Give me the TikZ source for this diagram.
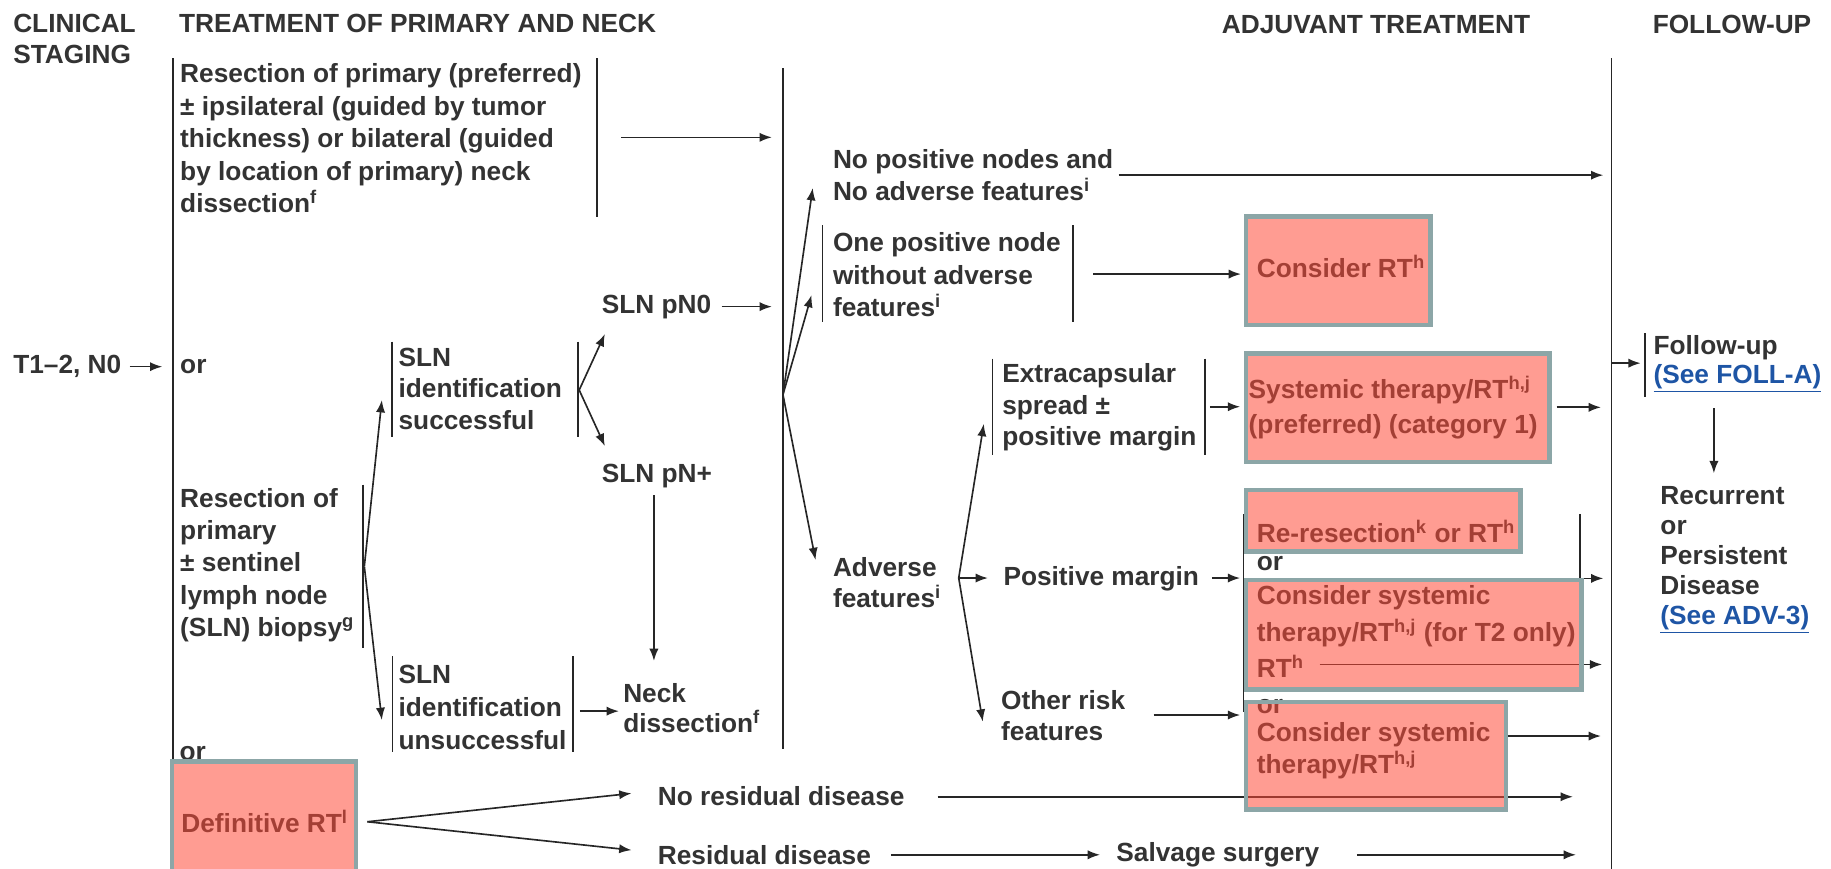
\documentclass[tikz,border=0pt]{standalone}
\usepackage{fontspec}
\setmainfont{Liberation Sans}
\usetikzlibrary{arrows.meta}
\definecolor{boxfill}{RGB}{255,74,56}
\definecolor{boxline}{RGB}{140,166,167}
\definecolor{linkblue}{RGB}{30,85,165}

\begin{document}
\begin{tikzpicture}[x=0.02cm, y=-0.02cm,
    txt/.style={font=\fontsize{12.8}{15.8}\selectfont\bfseries, align=left, inner sep=0pt, anchor=west, text=black!80},
    lead/.style={font=\fontsize{12.8}{#1}\selectfont\bfseries},
    arr/.style={-{Latex[length=6pt,width=4.5pt]}, line width=0.8pt, black!85},
    bar/.style={line width=0.8pt, black!85},
    redbox/.style={fill=boxfill, fill opacity=0.55, draw=boxline, line width=2.2pt}]
    \useasboundingbox (0,0) rectangle (1568,744);

    % Headers
    \node[txt, lead=15.3pt] (hstage) at (11,33.5) {CLINICAL\\STAGING};
    \node[txt] (htreat) at (153,20) {TREATMENT OF PRIMARY AND NECK};
    \node[txt] (hadj) at (1046,21) {ADJUVANT TREATMENT};
    \node[txt] (hfollow) at (1415,21) {FOLLOW-UP};

    % Column lines
    \draw[bar] (148,50) -- (148,652);
    \draw[bar] (670.5,58.5) -- (670.5,641);
    \draw[bar] (1380,50) -- (1380,744);

    % Clinical staging
    \node[txt] (stage) at (11,314) {T1–2, N0};
    \coordinate (stage-out) at (111,314);
    \coordinate (stage-in) at (139,314);
    \draw[arr] (stage-out) -- (stage-in);

    % Resection with neck dissection
    \node[txt] (resect) at (154,118.5) {Resection of primary (preferred)\\± ipsilateral (guided by tumor\\thickness) or bilateral (guided\\by location of primary) neck\\dissection\textsuperscript{f}};
    \draw[bar] (511,50) -- (511,186);
    \coordinate (resect-out) at (532,117.6);
    \coordinate (col2-a) at (661,117.6);
    \draw[arr] (resect-out) -- (col2-a);
    \node[txt] (or1) at (154,314) {or};

    % Sentinel node biopsy
    \node[txt] (slnb) at (154,484) {Resection of\\primary\\± sentinel\\lymph node\\(SLN) biopsy\textsuperscript{g}};
    \draw[bar] (311,415) -- (311,555);
    \coordinate (slnb-out) at (312,485);
    \node[txt, lead=15.4pt] (slnok) at (341,333) {SLN\\identification\\successful};
    \draw[bar] (335.6,292.6) -- (335.6,374) (495,292.6) -- (495,374);
    \node[txt, lead=16pt] (slnfail) at (341,606) {SLN\\identification\\unsuccessful};
    \draw[bar] (336,562) -- (336,644) (490.6,562) -- (490.6,644);
    \coordinate (slnok-in) at (327,342.6);
    \coordinate (slnfail-in) at (327,616.6);
    \draw[arr] (slnb-out) -- (slnok-in);
    \draw[arr] (slnb-out) -- (slnfail-in);

    \coordinate (slnok-out) at (496,334);
    \node[txt] (pn0) at (515,262.6) {SLN pN0};
    \node[txt] (pnplus) at (515,408) {SLN pN+};
    \coordinate (pn0-in) at (518,286);
    \coordinate (pnplus-in) at (518,382);
    \draw[arr] (slnok-out) -- (pn0-in);
    \draw[arr] (slnok-out) -- (pnplus-in);
    \coordinate (pn0-out) at (618,262.6);
    \coordinate (col2-b) at (661,262.6);
    \draw[arr] (pn0-out) -- (col2-b);

    \node[txt, lead=14.6pt] (neck) at (533.4,606.5) {Neck\\dissection\textsuperscript{f}};
    \coordinate (pnplus-out) at (560,424);
    \coordinate (neck-in) at (560,566);
    \draw[arr] (pnplus-out) -- (neck-in);
    \coordinate (slnfail-out) at (496.5,609);
    \coordinate (neck-w) at (530,609);
    \draw[arr] (slnfail-out) -- (neck-w);

    % Definitive RT
    \node[txt] (or2) at (153.5,645) {or};
    \node[txt] (defrt) at (155,703.7) {Definitive RT\textsuperscript{l}};
    \coordinate (defrt-out) at (314.6,703.7);
    \node[txt] (nores) at (563,681.7) {No residual disease};
    \node[txt] (res) at (563,732) {Residual disease};
    \node[txt] (salvage) at (955.7,732) {Salvage surgery};
    \coordinate (nores-in) at (540.8,679.4);
    \coordinate (res-in) at (540.8,728);
    \draw[arr] (defrt-out) -- (nores-in);
    \draw[arr] (defrt-out) -- (res-in);
    \coordinate (nores-out) at (803,682.3);
    \coordinate (fu-nores) at (1347,682.3);
    \draw[arr] (nores-out) -- (fu-nores);
    \coordinate (res-out) at (763,732);
    \coordinate (salvage-in) at (942,732);
    \draw[arr] (res-out) -- (salvage-in);
    \coordinate (salvage-out) at (1162,732);
    \coordinate (fu-salvage) at (1349.6,732);
    \draw[arr] (salvage-out) -- (fu-salvage);

    % Pathology after surgery
    \coordinate (fan1) at (670.5,338);
    \node[txt] (noneg) at (713,150) {No positive nodes and\\No adverse features\textsuperscript{i}};
    \node[txt] (onepos) at (713,235.5) {One positive node\\without adverse\\features\textsuperscript{i}};
    \draw[bar] (704.5,193) -- (704.5,276) (918.6,193) -- (918.6,276);
    \node[txt, lead=15.2pt] (adverse) at (713,499) {Adverse\\features\textsuperscript{i}};
    \coordinate (noneg-in) at (696,161);
    \coordinate (onepos-in) at (695,252.6);
    \coordinate (adverse-in) at (698.4,479.6);
    \draw[arr] (fan1) -- (noneg-in);
    \draw[arr] (fan1) -- (onepos-in);
    \draw[arr] (fan1) -- (adverse-in);
    \coordinate (noneg-out) at (958,150);
    \coordinate (fu-noneg) at (1373,150);
    \draw[arr] (noneg-out) -- (fu-noneg);
    \coordinate (onepos-out) at (936,234.7);
    \coordinate (consrt-in) at (1062.7,234.7);
    \draw[arr] (onepos-out) -- (consrt-in);
    \node[txt] (consrt) at (1076,228.4) {Consider RT\textsuperscript{h}};

    % Adverse features
    \coordinate (fan2) at (821,495);
    \node[txt, lead=15.3pt] (ecs) at (858,349) {Extracapsular\\spread ±\\positive margin};
    \draw[bar] (850,307) -- (850,390) (1032,307) -- (1032,390);
    \node[txt] (posmarg) at (859,495.3) {Positive margin};
    \node[txt, lead=15.3pt] (otherrisk) at (857,613) {Other risk\\features};
    \coordinate (ecs-in) at (842.5,363);
    \coordinate (posmarg-in) at (846,495);
    \coordinate (otherrisk-in) at (841.6,618);
    \draw[arr] (fan2) -- (ecs-in);
    \draw[arr] (fan2) -- (posmarg-in);
    \draw[arr] (fan2) -- (otherrisk-in);

    \coordinate (ecs-out) at (1036,348.3);
    \coordinate (systrt-in) at (1062,348.3);
    \draw[arr] (ecs-out) -- (systrt-in);
    \node[txt, lead=17pt] (systrt) at (1069,349) {Systemic therapy/RT\textsuperscript{h,j}\\(preferred) (category 1)};
    \coordinate (systrt-out) at (1333,348.8);
    \coordinate (fu-systrt) at (1371,348.8);
    \draw[arr] (systrt-out) -- (fu-systrt);

    \coordinate (posmarg-out) at (1037.7,495);
    \coordinate (reres-in) at (1062,495);
    \draw[arr] (posmarg-out) -- (reres-in);
    \node[txt] (reres) at (1076,455) {Re-resection\textsuperscript{k} or RT\textsuperscript{h}};
    \node[txt] (or3) at (1076,482.4) {or};
    \node[txt, lead=17.7pt] (conssys1) at (1076,541) {Consider systemic\\therapy/RT\textsuperscript{h,j} (for T2 only)\\RT\textsuperscript{h}};
    \draw[bar] (1065,440) -- (1065,610);
    \draw[bar] (1353,440) -- (1353,495.3);
    \coordinate (reres-out) at (1353,495.3);
    \coordinate (fu-reres) at (1373,495.3);
    \draw[arr] (reres-out) -- (fu-reres);
    \coordinate (rth-out) at (1130,569);
    \coordinate (fu-rth) at (1372,569);
    \draw[arr] (rth-out) -- (fu-rth);

    \coordinate (otherrisk-out) at (988,612.3);
    \coordinate (conssys2-in) at (1062,612.3);
    \draw[arr] (otherrisk-out) -- (conssys2-in);
    \node[txt] (or4) at (1076,605) {or};
    \node[txt, lead=15.4pt] (conssys2) at (1076,643) {Consider systemic\\therapy/RT\textsuperscript{h,j}};
    \coordinate (conssys2-out) at (1290.6,630.3);
    \coordinate (fu-conssys2) at (1371,630.3);
    \draw[arr] (conssys2-out) -- (fu-conssys2);

    % Follow-up
    \node[txt, lead=13.8pt] (follow) at (1415.7,312) {Follow-up\\\textcolor{linkblue}{\underline{(See FOLL-A)}}};
    \draw[bar] (1408.6,285.5) -- (1408.6,339.7);
    \coordinate (fu-main) at (1380,311);
    \coordinate (follow-in) at (1405,311);
    \draw[arr] (fu-main) -- (follow-in);
    \node[txt, lead=14.6pt] (recur) at (1421.6,479.5) {Recurrent\\or\\Persistent\\Disease\\\textcolor{linkblue}{\underline{(See ADV-3)}}};
    \coordinate (follow-out) at (1467.7,349.7);
    \coordinate (recur-in) at (1467.7,405.3);
    \draw[arr] (follow-out) -- (recur-in);

    % Highlight boxes
    \path[redbox] (1067,185.6) rectangle (1225,278.3);
    \path[redbox] (1067,302.6) rectangle (1327,395.5);
    \path[redbox] (1067,419.6) rectangle (1302,472.4);
    \path[redbox] (1067,496.7) rectangle (1354.5,590.3);
    \path[redbox] (1067,601) rectangle (1289.6,693);
    \path[redbox] (147.5,652) rectangle (305,760);
\end{tikzpicture}
\end{document}
